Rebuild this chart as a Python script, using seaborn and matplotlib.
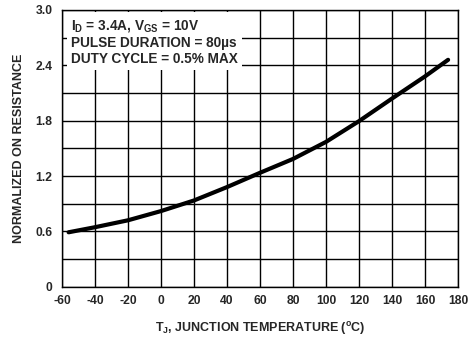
import matplotlib
matplotlib.use("Agg")
import matplotlib.pyplot as plt
import seaborn as sns
import pandas as pd
from matplotlib.ticker import FixedLocator, FuncFormatter

# Data
temp_c = [-56, -40, -20, 0, 20, 40, 60, 80, 100, 120, 140, 160, 174]
norm_r = [0.59, 0.645, 0.72, 0.82, 0.935, 1.08, 1.235, 1.385, 1.57, 1.795, 2.04, 2.28, 2.46]

x_ticks = [-60, -40, -20, 0, 20, 40, 60, 80, 100, 120, 140, 160, 180]
y_ticks = [0, 0.6, 1.2, 1.8, 2.4, 3.0]
y_grid = [0.3, 0.9, 1.5, 2.1, 2.7]

x_label = "T$_\\mathrm{J}$, JUNCTION TEMPERATURE ($^\\mathrm{o}$C)"
y_label = "NORMALIZED ON RESISTANCE"
note = ("I$_\\mathrm{D}$ = 3.4A, V$_\\mathrm{GS}$ = 10V\n"
        "PULSE DURATION = 80\u00b5s\n"
        "DUTY CYCLE = 0.5% MAX")

sns.set_style("white")
plt.rcParams["font.family"] = ["Liberation Sans", "DejaVu Sans"]
plt.rcParams["font.weight"] = "bold"
plt.rcParams["axes.unicode_minus"] = False
plt.rcParams["mathtext.fontset"] = "custom"
plt.rcParams["mathtext.rm"] = "Liberation Sans:bold"
plt.rcParams["mathtext.it"] = "Liberation Sans:bold"
plt.rcParams["mathtext.bf"] = "Liberation Sans:bold"

df = pd.DataFrame({"temp": temp_c, "res": norm_r})

fig = plt.figure(figsize=(4.75, 3.37), dpi=100)
ax = fig.add_axes([62 / 475, 1 - 286.7 / 337, (458 - 62) / 475, (286.7 - 10) / 337])

sns.lineplot(data=df, x="temp", y="res", ax=ax, color="black", linewidth=3.0, zorder=3)

ax.set_xlim(-60, 180)
ax.set_ylim(0, 3.0)
ax.xaxis.set_major_locator(FixedLocator(x_ticks))
ax.yaxis.set_major_locator(FixedLocator(y_ticks))
ax.yaxis.set_minor_locator(FixedLocator(y_grid))
ax.yaxis.set_major_formatter(FuncFormatter(lambda v, p: "0" if v == 0 else f"{v:.1f}"))
ax.grid(True, which="major", axis="both", color="black", linewidth=1.0)
ax.grid(True, which="minor", axis="y", color="black", linewidth=1.0)
ax.set_axisbelow(True)
ax.tick_params(axis="both", which="both", length=0, labelsize=8.7)
ax.tick_params(axis="x", pad=6)
ax.tick_params(axis="y", pad=7)
for lab in ax.get_xticklabels() + ax.get_yticklabels():
    lab.set_fontweight("bold")
for s in ax.spines.values():
    s.set_color("black")
    s.set_linewidth(1.0)

ax.set_xlabel(x_label, fontsize=9, fontweight="bold", labelpad=9)
ax.set_ylabel(y_label, fontsize=9, fontweight="bold", labelpad=7)

ax.text(-54.5, 2.915, note, fontsize=9.8, fontweight="bold", va="top", ha="left",
        linespacing=1.18, zorder=4,
        bbox=dict(facecolor="white", edgecolor="none", pad=3))

fig.savefig("out.png", dpi=100)
